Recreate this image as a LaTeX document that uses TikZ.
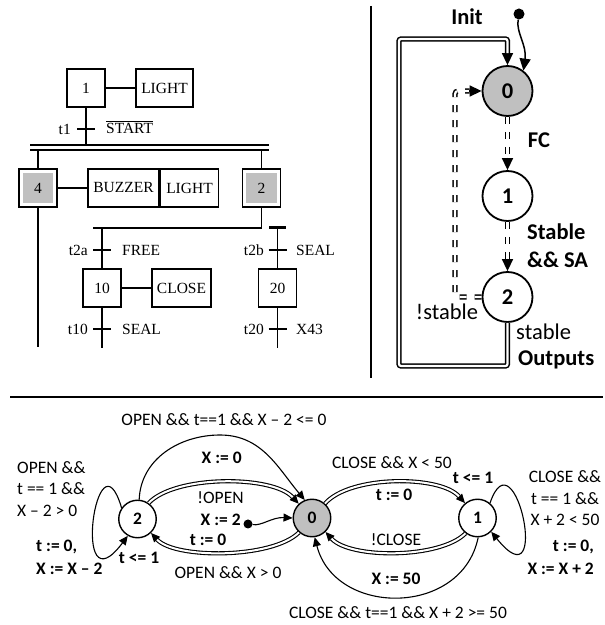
\documentclass[tikz,border=0pt]{standalone}
\usepackage{fontspec}
\setmainfont{Liberation Serif}
\newfontfamily\calfont{Carlito}
\usetikzlibrary{arrows.meta}
\definecolor{stgray}{RGB}{192,192,192}
\newcommand\fGraf{\fontsize{15.5}{18}\selectfont}
\newcommand\fSmR{\calfont\fontsize{17.5}{21.5}\selectfont}
\newcommand\fSmB{\calfont\bfseries\fontsize{17.5}{23}\selectfont}
\newcommand\fBgR{\calfont\fontsize{22.5}{28}\selectfont}
\newcommand\fBgB{\calfont\bfseries\fontsize{22.5}{28}\selectfont}
\begin{document}
\begin{tikzpicture}[x=1pt,y=1pt,
 gl/.style={line width=1.8pt},
 gbox/.style={draw, line width=1.8pt, minimum height=38pt, minimum width=38pt, inner sep=0pt, font=\fGraf},
 actstep/.style={gbox, path picture={\fill[stgray] ([shift={(3.8pt,3.8pt)}]path picture bounding box.south west) rectangle ([shift={(-3.8pt,-3.8pt)}]path picture bounding box.north east);}},
 glab/.style={font=\fGraf, inner sep=0pt},
 bigst/.style={circle, draw, line width=1.8pt, minimum size=50pt, inner sep=0pt, font=\fBgB},
 smst/.style={circle, draw, line width=1.4pt, minimum size=37.5pt, inner sep=0pt, font=\fSmB},
 tipbig/.style={line width=1.5pt, -{Triangle[length=12pt,width=11pt]}},
 tipsm/.style={line width=1.1pt, -{Triangle[length=9pt,width=8pt]}},
 dblbig/.style={line width=1.5pt, double=white, double distance=2.2pt},
 dshbig/.style={dblbig, dash pattern=on 7pt off 8pt},
 dblsm/.style={line width=1.1pt, double=white, double distance=2pt},
 smline/.style={line width=1.2pt},
 lr/.style={font=\fSmR, inner sep=0pt},
 lb/.style={font=\fSmB, inner sep=0pt},
 Lr/.style={font=\fBgR, inner sep=0pt},
 Lb/.style={font=\fBgB, inner sep=0pt}]
\useasboundingbox (0,0) rectangle (605,625);

% ---------------- GRAFCET ----------------
\node[gbox] (s1) at (86,537) {1};
\node[gbox, minimum width=57pt] (a1) at (164.5,537) {LIGHT};
\draw[gl] (s1) -- (a1);
\coordinate (b1) at (86,480);
\draw[gl] (s1.south) -- (b1);
\draw[gl] (77,496) -- (95,496);
\node[glab, anchor=east] (t1) at (71,496) {t1};
\node[glab, anchor=base west] (c1) at (106,491) {START};
\draw[line width=0.9pt] ([yshift=1.8pt]c1.north west) -- ([yshift=1.8pt]c1.north east);
\draw[gl] (30,480) -- (269,480);
\draw[gl] (30,475.3) -- (269,475.3);

\node[actstep] (s4) at (38,437) {4};
\node[actstep] (s2) at (261.5,437) {2};
\coordinate (b4) at (38,475.3);
\coordinate (b2) at (261.5,475.3);
\draw[gl] (b4) -- (s4.north);
\draw[gl] (b2) -- (s2.north);
\node[gbox, minimum width=71pt] (a4) at (123.5,437) {BUZZER};
\node[gbox, minimum width=58pt] (a4b) at (189.5,437) {LIGHT};
\draw[gl] (s4) -- (a4);
\coordinate (e4) at (38,278);
\draw[gl] (s4.south) -- (e4);

\coordinate (d2) at (261.5,397);
\draw[gl] (s2.south) -- (d2);
\draw[gl] (93,397) -- (262.4,397);
\draw[line width=3pt] (269,397) -- (286,397);

\node[gbox] (s10) at (102,337) {10};
\node[gbox, minimum width=59pt] (a10) at (181.5,337) {CLOSE};
\draw[gl] (s10) -- (a10);
\coordinate (d10) at (102,397);
\draw[gl] (d10) -- (s10.north);
\draw[gl] (93,375) -- (111,375);
\coordinate (e10) at (102,277);
\draw[gl] (s10.south) -- (e10);
\draw[gl] (93,296) -- (111,296);
\node[glab, anchor=east] (t2a) at (88,375) {t2a};
\node[glab, anchor=west] (c2a) at (122,375) {FREE};
\node[glab, anchor=east] (t10) at (88,296) {t10};
\node[glab, anchor=west] (c10) at (122,296) {SEAL};

\node[gbox] (s20) at (277.5,337) {20};
\coordinate (d20) at (277.5,397);
\draw[gl] (d20) -- (s20.north);
\draw[gl] (268.5,375) -- (286.5,375);
\coordinate (e20) at (277.5,277);
\draw[gl] (s20.south) -- (e20);
\draw[gl] (268.5,296) -- (286.5,296);
\node[glab, anchor=east] (t2b) at (264,375) {t2b};
\node[glab, anchor=west] (c2b) at (296,375) {SEAL};
\node[glab, anchor=east] (t20) at (264,296) {t20};
\node[glab, anchor=west] (c20) at (296,296) {X43};

% ---------------- dividers ----------------
\draw[line width=2pt] (371,619) -- (371,247);
\draw[line width=2.6pt] (10,228) -- (603,228);

% ---------------- top-right state machine ----------------
\node[bigst, fill=stgray] (C0) at (507.5,534) {0};
\node[bigst] (C1) at (507.5,429) {1};
\node[bigst] (C2) at (507.5,328) {2};

\node[circle, fill, inner sep=0pt, minimum size=11pt] (i0) at (519,611) {};
\draw[tipbig] (i0) .. controls (516,592) and (527,580) .. (C0.52);
\node[Lb] (init) at (467,608) {Init};

\coordinate (L1) at (399,259);
\coordinate (L2) at (399,586);
\draw[tipbig] ([yshift=14pt]C0.north) -- (C0.north);
\draw[dblbig, rounded corners=2pt] (C2.south) -- (C2.south |- L1) -- (L1) -- (L2) -- (C0.north |- L2) -- ([yshift=12pt]C0.north);

\draw[dshbig] (C0.south) -- ([yshift=12pt]C1.north);
\draw[tipbig] ([yshift=12.5pt]C1.north) -- (C1.north);
\node[Lb] (fc) at (539,485) {FC};

\draw[dshbig] (C1.south) -- ([yshift=12pt]C2.north);
\draw[tipbig] ([yshift=12.5pt]C2.north) -- (C2.north);
\node[Lb, anchor=west, align=left] (ssa) at (527,379) {Stable\\\&\& SA};

\coordinate (D1) at (455,330);
\draw[dshbig, rounded corners=3pt] (C2.west) -- (D1 |- C2.west) -- (D1 |- C0.west) -- ([xshift=-12pt]C0.west);
\draw[tipbig] ([xshift=-12.5pt]C0.west) -- (C0.west);
\node[Lr] (nst) at (447,313) {!stable};
\node[Lr, anchor=west] (st) at (516,293) {stable};
\node[Lb, anchor=west] (outp) at (518,265) {Outputs};

% ---------------- bottom automaton ----------------
\node[smst] (B2) at (137.5,106) {2};
\node[smst, fill=stgray] (B0) at (312,107) {0};
\node[smst] (B1) at (477.5,107) {1};

% 2 -> 0 top single
\draw[tipsm] (B2.85) to[out=88,in=180] (220,190) to[out=0,in=130] (B0.112);
% 2 -> 0 upper double
\draw[tipsm] (B2.55) .. controls (175,150) and (272,150) .. (B0.133);
\draw[dblsm, shorten >=9pt] (B2.55) .. controls (175,150) and (272,150) .. (B0.133);
% 0 -> 2 lower double
\draw[tipsm] (B0.-132) .. controls (272,66) and (175,66) .. (B2.-46);
\draw[dblsm, shorten >=9pt] (B0.-132) .. controls (272,66) and (175,66) .. (B2.-46);
% 0 -> 1 upper double
\draw[tipsm] (B0.48) .. controls (350,150) and (440,150) .. (B1.130);
\draw[dblsm, shorten >=9pt] (B0.48) .. controls (350,150) and (440,150) .. (B1.130);
% 1 -> 0 lower double
\draw[tipsm] (B1.-128) .. controls (440,66) and (350,66) .. (B0.-46);
\draw[dblsm, shorten >=9pt] (B1.-128) .. controls (440,66) and (350,66) .. (B0.-46);
% 1 -> 0 bottom single
\draw[tipsm] (B1.-88) .. controls (462,8) and (335,8) .. (B0.-82);
% self loops
\draw[tipsm] (B2.145) .. controls (97,200) and (70,12) .. (B2.-120);
\draw[tipsm] (B1.50) .. controls (515,195) and (552,18) .. (B1.-45);
% init
\node[circle, fill, inner sep=0pt, minimum size=9pt] (i1) at (248,101) {};
\draw[tipsm] (i1) .. controls (262,99) and (272,108) .. (B0.west);

\node[lr] (l1) at (224,205) {OPEN \&\& t==1 \&\& X – 2 <= 0};
\node[lb] (l2) at (221.7,167) {X := 0};
\node[lr, align=left, anchor=west] (l3) at (17,136) {OPEN \&\&\\t == 1 \&\&\\X – 2 > 0};
\node[lb, align=left, anchor=west] (l4) at (36,68) {t := 0,\\X := X – 2};
\node[lb] (l5) at (139,67) {t <= 1};
\node[lr] (l6) at (220.5,127) {!OPEN};
\node[lb] (l7) at (220.7,105) {X := 2};
\node[lb] (l8) at (208,85) {t := 0};
\node[lr] (l9) at (228,52) {OPEN \&\& X > 0};
\node[lr] (l10) at (392,162) {CLOSE \&\& X < 50};
\node[lb] (l11) at (473,147) {t <= 1};
\node[lb] (l12) at (394,130) {t := 0};
\node[lr] (l13) at (396,85) {!CLOSE};
\node[lb] (l14) at (396,46) {X := 50};
\node[lr] (l15) at (398,12) {CLOSE \&\& t==1 \&\& X + 2 >= 50};
\node[lr, align=center] (l16) at (565,126.7) {CLOSE \&\&\\t == 1 \&\&\\X + 2 < 50};
\node[lb, align=right, anchor=east] (l17) at (594,68) {t := 0,\\X := X + 2};
\end{tikzpicture}
\end{document}
